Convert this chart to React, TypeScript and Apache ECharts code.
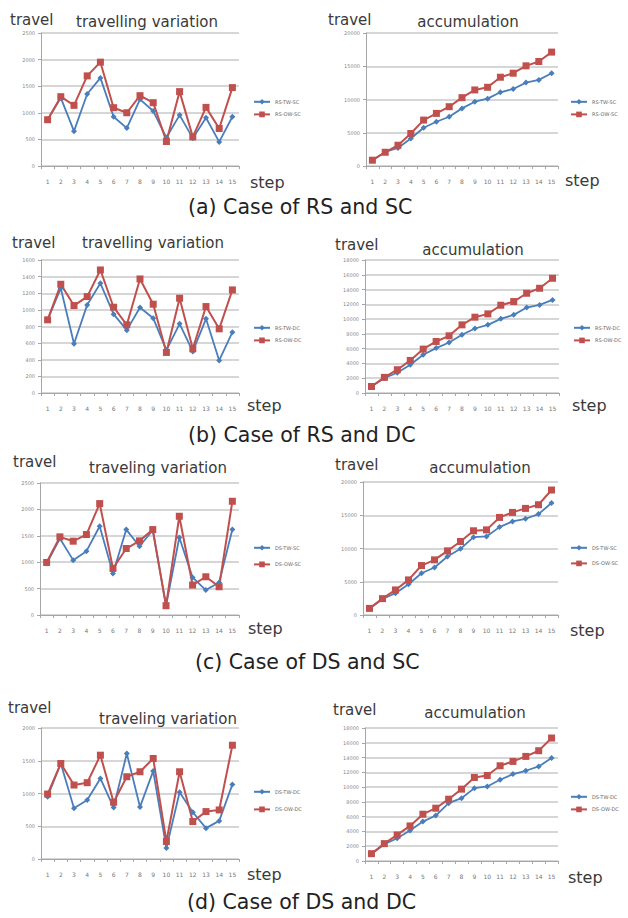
import React, { useEffect, useRef } from "react";
import * as echarts from "echarts";

const steps = ["1", "2", "3", "4", "5", "6", "7", "8", "9", "10", "11", "12", "13", "14", "15"];

// (a) RS and SC
const rsTwScVar = [870, 1280, 655, 1354, 1656, 926, 712, 1253, 1033, 535, 957, 523, 907, 453, 926];
const rsOwScVar = [870, 1303, 1140, 1694, 1952, 1096, 1001, 1322, 1190, 460, 1398, 548, 1102, 705, 1474];
const rsTwScAcc = [870, 2116, 2720, 4131, 5743, 6650, 7405, 8665, 9673, 10126, 11083, 11587, 12544, 12947, 13955];
const rsOwScAcc = [870, 2065, 3123, 4887, 6902, 7909, 8917, 10277, 11436, 11839, 13350, 13955, 15063, 15718, 17128];

// (b) RS and DC
const rsTwDcVar = [880, 1260, 592, 1060, 1320, 948, 756, 1028, 900, 516, 832, 500, 892, 392, 732];
const rsOwDcVar = [880, 1308, 1052, 1160, 1480, 1032, 820, 1372, 1068, 488, 1140, 532, 1040, 772, 1240];
const rsTwDcAcc = [880, 2025, 2745, 3825, 5175, 6075, 6840, 7875, 8730, 9225, 10035, 10575, 11565, 11925, 12600];
const rsOwDcAcc = [880, 2115, 3150, 4410, 5940, 6975, 7740, 9225, 10260, 10710, 11880, 12375, 13500, 14175, 15525];

// (c) DS and SC
const dsTwScVar = [976, 1448, 1039, 1209, 1681, 787, 1618, 1303, 1606, 176, 1467, 712, 472, 617, 1618];
const dsOwScVar = [995, 1480, 1398, 1524, 2110, 882, 1259, 1404, 1618, 176, 1870, 567, 724, 535, 2154];
const dsTwScAcc = [976, 2412, 3266, 4623, 6281, 7136, 8794, 9950, 11709, 11809, 13216, 14070, 14472, 15175, 16834];
const dsOwScAcc = [995, 2462, 3769, 5276, 7437, 8291, 9648, 11055, 12663, 12800, 14673, 15427, 16030, 16583, 18794];

// (d) DS and DC
const dsTwDcVar = [952, 1458, 775, 901, 1230, 785, 1610, 795, 1342, 167, 1018, 714, 471, 582, 1139];
const dsOwDcVar = [992, 1458, 1129, 1165, 1585, 866, 1256, 1332, 1534, 268, 1332, 572, 724, 749, 1737];
const dsTwDcAcc = [952, 2261, 3075, 4115, 5337, 6151, 7825, 8503, 9860, 10086, 10990, 11759, 12212, 12800, 13930];
const dsOwDcAcc = [992, 2352, 3528, 4749, 6332, 7146, 8367, 9724, 11307, 11578, 12890, 13478, 14156, 14925, 16643];

const yAxisMax = [2500, 20000, 1600, 18000, 2500, 20000, 2000, 18000];
const yAxisStep = [500, 5000, 200, 2000, 500, 5000, 500, 2000];

const seriesNames = [
  ["RS-TW-SC", "RS-OW-SC"],
  ["RS-TW-SC", "RS-OW-SC"],
  ["RS-TW-DC", "RS-OW-DC"],
  ["RS-TW-DC", "RS-OW-DC"],
  ["DS-TW-SC", "DS-OW-SC"],
  ["DS-TW-SC", "DS-OW-SC"],
  ["DS-TW-DC", "DS-OW-DC"],
  ["DS-TW-DC", "DS-OW-DC"],
];
const seriesData = [
  [rsTwScVar, rsOwScVar],
  [rsTwScAcc, rsOwScAcc],
  [rsTwDcVar, rsOwDcVar],
  [rsTwDcAcc, rsOwDcAcc],
  [dsTwScVar, dsOwScVar],
  [dsTwScAcc, dsOwScAcc],
  [dsTwDcVar, dsOwDcVar],
  [dsTwDcAcc, dsOwDcAcc],
];
const chartTitles = [
  "travelling variation", "accumulation",
  "travelling variation", "accumulation",
  "traveling variation", "accumulation",
  "traveling variation", "accumulation",
];
const captions = ["(a) Case of RS and SC", "(b) Case of RS and DC", "(c) Case of DS and SC", "(d) Case of DS and DC"];

// layout (pixels)
const gridBoxes = [
  { left: 41, top: 33, width: 198, height: 133 },
  { left: 366, top: 33, width: 192, height: 133 },
  { left: 41, top: 260, width: 198, height: 133 },
  { left: 365, top: 260, width: 194, height: 133 },
  { left: 40, top: 483, width: 199, height: 132 },
  { left: 363, top: 482, width: 195, height: 133 },
  { left: 41, top: 728, width: 198, height: 131 },
  { left: 365, top: 728, width: 193, height: 133 },
];
const legendPos = [
  { left: 253, top: 99, gap: 7 },
  { left: 570, top: 99, gap: 7 },
  { left: 253, top: 325, gap: 7 },
  { left: 573, top: 325, gap: 7 },
  { left: 253, top: 545, gap: 11 },
  { left: 570, top: 545, gap: 10 },
  { left: 253, top: 789, gap: 12 },
  { left: 570, top: 794, gap: 7 },
];
const travelPos = [
  [10, 20], [328, 20], [12, 243], [335, 245], [13, 462], [335, 465], [8, 708], [333, 710],
];
const titlePos = [
  [147, 22], [468, 22], [153, 243], [473, 250], [158, 468], [480, 468], [168, 719], [475, 713],
];
const stepPos = [
  [250, 182], [565, 180], [247, 405], [572, 405], [248, 628], [570, 630], [247, 874], [568, 877],
];
const captionPos = [
  [188, 207], [188, 435], [195, 662], [187, 902],
];

const BLUE = "#4A7EBB";
const RED = "#C0504D";
const FONT = "DejaVu Sans";

export default function App() {
  const ref = useRef<HTMLDivElement>(null);
  useEffect(() => {
    if (!ref.current) return;
    const chart = echarts.init(ref.current, undefined, { renderer: "svg" });
    const grid: any[] = [];
    const xAxis: any[] = [];
    const yAxis: any[] = [];
    const series: any[] = [];
    const legend: any[] = [];
    const graphic: any[] = [];

    gridBoxes.forEach((g, i) => {
      grid.push({ left: g.left, top: g.top, width: g.width, height: g.height, containLabel: false });
      xAxis.push({
        type: "category",
        gridIndex: i,
        data: steps,
        boundaryGap: true,
        axisLine: { show: true, lineStyle: { color: "#a6a6a6", width: 1 } },
        axisTick: { show: true, length: 3, lineStyle: { color: "#a6a6a6" } },
        axisLabel: { interval: 0, fontSize: 6, color: "#777", margin: 12, fontFamily: FONT },
        splitLine: { show: false },
      });
      yAxis.push({
        type: "value",
        gridIndex: i,
        min: 0,
        max: yAxisMax[i],
        interval: yAxisStep[i],
        axisLine: { show: true, lineStyle: { color: "#a6a6a6", width: 1 } },
        axisTick: { show: true, length: 3, lineStyle: { color: "#a6a6a6" } },
        axisLabel: {
          fontSize: 5,
          color: "#888",
          margin: 6,
          fontFamily: FONT,
          formatter: (v: number) => String(v),
        },
        splitLine: { show: true, lineStyle: { color: "#c8c8c8", width: 1.5 } },
      });
      const [nTw, nOw] = seriesNames[i];
      const [dTw, dOw] = seriesData[i];
      series.push({
        type: "line",
        name: nTw,
        xAxisIndex: i,
        yAxisIndex: i,
        data: dTw,
        symbol: "diamond",
        symbolSize: 6,
        color: BLUE,
        lineStyle: { width: 1.8, color: BLUE },
        itemStyle: { color: BLUE },
      });
      series.push({
        type: "line",
        name: nOw,
        xAxisIndex: i,
        yAxisIndex: i,
        data: dOw,
        symbol: "rect",
        symbolSize: 7,
        color: RED,
        lineStyle: { width: 2, color: RED },
        itemStyle: { color: RED },
      });
      const lp = legendPos[i];
      legend.push({
        left: lp.left,
        top: lp.top,
        orient: "vertical",
        itemGap: lp.gap,
        itemWidth: 16,
        itemHeight: 7,
        padding: 0,
        selectedMode: false,
        textStyle: { fontSize: 5, color: "#666", fontFamily: FONT },
        data: [nTw, nOw],
      });
      graphic.push({
        type: "text",
        x: travelPos[i][0],
        y: travelPos[i][1],
        style: { text: "travel", fontSize: 15, fontFamily: FONT, fill: "#3a3a3a", align: "left", verticalAlign: "middle" },
      });
      graphic.push({
        type: "text",
        x: titlePos[i][0],
        y: titlePos[i][1],
        style: { text: chartTitles[i], fontSize: 15, fontFamily: FONT, fill: "#3a3a3a", align: "center", verticalAlign: "middle" },
      });
      graphic.push({
        type: "text",
        x: stepPos[i][0],
        y: stepPos[i][1],
        style: { text: "step", fontSize: 16, fontFamily: FONT, fill: "#3a3a3a", align: "left", verticalAlign: "middle" },
      });
    });
    captions.forEach((c, k) => {
      graphic.push({
        type: "text",
        x: captionPos[k][0],
        y: captionPos[k][1],
        style: { text: c, fontSize: 20.5, fontFamily: FONT, fill: "#222", align: "left", verticalAlign: "middle" },
      });
    });

    chart.setOption({
      animation: false,
      backgroundColor: "#ffffff",
      grid,
      xAxis,
      yAxis,
      series,
      legend,
      graphic,
    });
    return () => chart.dispose();
  }, []);
  return (
    <div
      ref={ref}
      style={{ position: "absolute", left: 0, top: 0, width: 628, height: 918, background: "#fff" }}
    />
  );
}
